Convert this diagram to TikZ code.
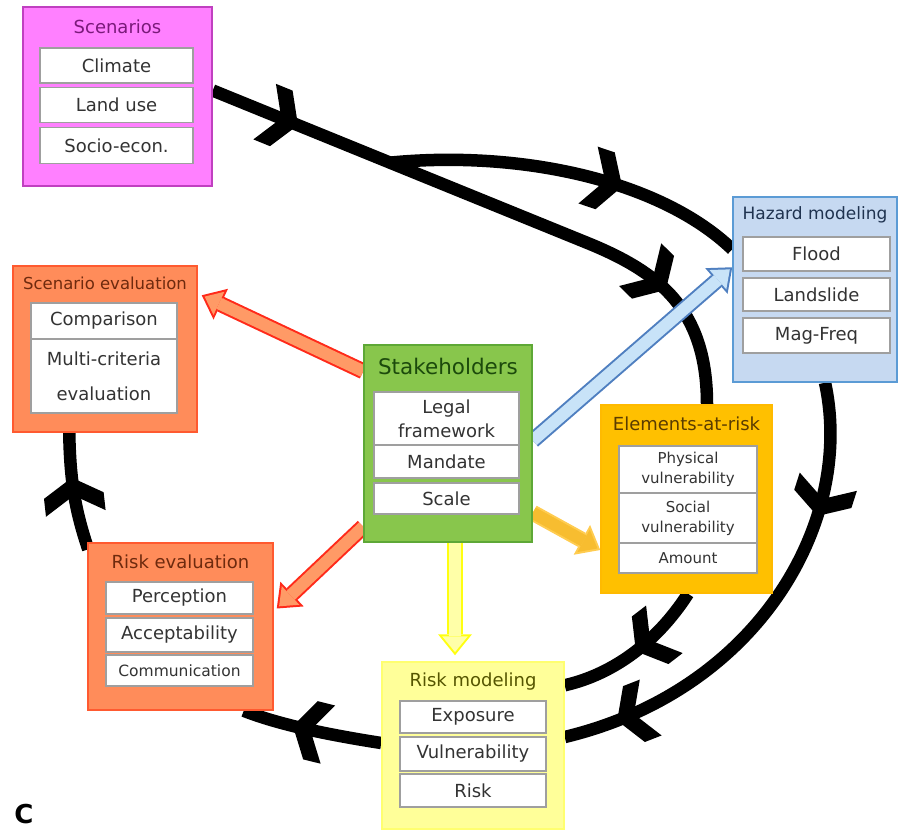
\documentclass[tikz,border=0pt]{standalone}
\usepackage{fontspec}
\setmainfont{DejaVu Sans}
\usepackage{xcolor}
\usepackage{tikz}
\usetikzlibrary{arrows.meta,calc,backgrounds,decorations.markings}

\definecolor{scenfill}{HTML}{FF80FF}
\definecolor{scenline}{HTML}{C040C0}
\definecolor{scentext}{HTML}{7A1A7A}
\definecolor{hazfill}{HTML}{C6D9F1}
\definecolor{hazline}{HTML}{5B9BD5}
\definecolor{haztext}{HTML}{1F3350}
\definecolor{evalfill}{HTML}{FF8C5A}
\definecolor{evalline}{HTML}{FF5A30}
\definecolor{evaltext}{HTML}{6E2A0E}
\definecolor{stakefill}{HTML}{88C64C}
\definecolor{stakeline}{HTML}{5EA836}
\definecolor{staketext}{HTML}{1C4A0C}
\definecolor{earfill}{HTML}{FFC000}
\definecolor{earline}{HTML}{FFBA00}
\definecolor{eartext}{HTML}{5A3C00}
\definecolor{rmfill}{HTML}{FFFF99}
\definecolor{rmline}{HTML}{FFFF70}
\definecolor{rmtext}{HTML}{555500}
\definecolor{celltext}{HTML}{333333}
\definecolor{redline}{HTML}{FF2A1A}
\definecolor{redfill}{HTML}{FF9A66}
\definecolor{yelline}{HTML}{FFFF10}
\definecolor{yelfill}{HTML}{FFFFA8}
\definecolor{goldline}{HTML}{FFCC50}
\definecolor{goldfill}{HTML}{F7BD30}
\definecolor{blueline}{HTML}{4F7FC0}
\definecolor{bluefill}{HTML}{C8E3F8}

\begin{document}
\begin{tikzpicture}[x=1pt, y=-1pt,
  panel/.style={draw=#1, line width=1.5pt, inner sep=0pt},
  head/.style={text=#1, inner sep=0pt, font=\fontsize{18pt}{21pt}\selectfont},
  cell/.style={draw=gray!75, line width=1.2pt, fill=white, inner sep=0pt, minimum width=#1, text=celltext, align=center, font=\fontsize{18pt}{22pt}\selectfont},
  loopline/.style={draw=black, line width=12.5pt},
  chevron/.style={postaction={decorate, decoration={markings, mark=at position #1 with {\fill[black] (0pt,0pt) -- (-18pt,30pt) -- (-36pt,30pt) -- (-18pt,0pt) -- (-36pt,-30pt) -- (-18pt,-30pt) -- cycle;}}}},
  fatarrow/.style 2 args={draw=#2, line width=12pt, -{Triangle[length=15.8pt,width=25.6pt,line width=0pt]}, shorten >=3.2pt,
    preaction={draw=#1, line width=16pt, -{Triangle[length=21pt,width=34pt,line width=0pt]}, shorten >=0pt}}]

\useasboundingbox (0,0) rectangle (899,830);

\node[panel=scenline, fill=scenfill, minimum width=189pt, minimum height=179pt] (scen) at (117.5,96.5) {};
\node[head=scentext] (scenhead) at (117.5,27) {Scenarios};
\node[cell=153pt, minimum height=35pt] (climate) at (116.5,65.5) {Climate};
\node[cell=153pt, minimum height=35pt] (landuse) at (116.5,105) {Land use};
\node[cell=153pt, minimum height=36pt] (socio) at (116.5,145.5) {Socio-econ.};

\node[panel=hazline, fill=hazfill, minimum width=164pt, minimum height=185pt] (haz) at (815,289.5) {};
\node[head=haztext, font=\fontsize{17pt}{20pt}\selectfont] (hazhead) at (815,215) {Hazard modeling};
\node[cell=147pt, minimum height=34pt] (flood) at (816.5,254) {Flood};
\node[cell=147pt, minimum height=33pt] (landslide) at (816.5,294.5) {Landslide};
\node[cell=147pt, minimum height=35pt] (magfreq) at (816.5,335.5) {Mag-Freq};

\node[panel=evalline, fill=evalfill, minimum width=184pt, minimum height=166pt] (seval) at (105,349) {};
\node[head=evaltext, font=\fontsize{16.5pt}{20pt}\selectfont] (sevalhead) at (105,283) {Scenario evaluation};
\node[cell=146pt, minimum height=36pt] (comparison) at (104,321) {Comparison};
\node[cell=146pt, minimum height=74pt, font=\fontsize{18pt}{35pt}\selectfont] (multicrit) at (104,376) {Multi-criteria\\evaluation};

\node[panel=stakeline, fill=stakefill, minimum width=168pt, minimum height=197pt] (stake) at (448,443.5) {};
\node[head=staketext, font=\fontsize{21.5pt}{25pt}\selectfont] (stakehead) at (448,366) {Stakeholders};
\node[cell=145pt, minimum height=53pt, font=\fontsize{18pt}{24pt}\selectfont] (legal) at (446.5,418.5) {Legal\\framework};
\node[cell=145pt, minimum height=33pt] (mandate) at (446.5,461.5) {Mandate};
\node[cell=145pt, minimum height=31pt] (scale) at (446.5,498.5) {Scale};

\node[panel=earline, fill=earfill, minimum width=171pt, minimum height=188pt] (ear) at (686.5,499) {};
\node[head=eartext] (earhead) at (686.5,424) {Elements-at-risk};
\node[cell=138pt, minimum height=47pt, font=\fontsize{15pt}{20pt}\selectfont] (physical) at (688,469.5) {Physical\\vulnerability};
\node[cell=138pt, minimum height=50pt, font=\fontsize{15pt}{20pt}\selectfont] (social) at (688,518) {Social\\vulnerability};
\node[cell=138pt, minimum height=30pt, font=\fontsize{15pt}{20pt}\selectfont] (amount) at (688,558) {Amount};

\node[panel=evalline, fill=evalfill, minimum width=185pt, minimum height=167pt] (reval) at (180.5,626.5) {};
\node[head=evaltext] (revalhead) at (180.5,562) {Risk evaluation};
\node[cell=147pt, minimum height=32pt] (perception) at (179.5,598) {Perception};
\node[cell=147pt, minimum height=34pt] (accept) at (179.5,635) {Acceptability};
\node[cell=147pt, minimum height=31pt, font=\fontsize{15.5pt}{20pt}\selectfont] (communic) at (179.5,670.5) {Communication};

\node[panel=rmline, fill=rmfill, minimum width=182pt, minimum height=167pt] (rm) at (473,745.5) {};
\node[head=rmtext] (rmhead) at (473,682) {Risk modeling};
\node[cell=146pt, minimum height=32pt] (exposure) at (473,717) {Exposure};
\node[cell=146pt, minimum height=34pt] (vulner) at (473,754) {Vulnerability};
\node[cell=146pt, minimum height=33pt] (risk) at (473,790.5) {Risk};

\node[font=\bfseries\fontsize{26pt}{30pt}\selectfont, inner sep=0pt] (tag) at (24,814) {C};

\begin{scope}[on background layer]
\draw[loopline, chevron=92pt, chevron=-125pt] ($(scen.east)+(0,-6)$) -- coordinate[pos=0.47] (split) (590,244) .. controls (660,273) and (707,310) .. ($(ear.north)+(20.5,0)$);
\draw[loopline, chevron=235pt] (split) .. controls (520,150) and (660,180) .. ($(haz.north west)+(0,53)$);
\draw[loopline, chevron=135pt, chevron=-55pt] ($(haz.south)+(10,0)$) .. controls (855,520) and (760,690) .. ($(rm.east)+(0,-8.5)$);
\draw[loopline, chevron=78pt] ($(ear.south)+(1.5,0)$) .. controls (655,645) and (610,675) .. ($(rm.north east)+(0,24)$);
\draw[loopline, chevron=90pt] ($(rm.west)+(0,-2.5)$) .. controls (330,735) and (280,725) .. ($(reval.south east)+(-30,0)$);
\draw[loopline, chevron=-45pt] ($(reval.north west)+(1,7)$) .. controls (75,510) and (70,480) .. ($(seval.south west)+(57,0)$);

\draw[fatarrow={redline}{redfill}] ($(stake.north west)+(0,27)$) -- ($(seval.north east)+(4,30)$);
\draw[fatarrow={redline}{redfill}] ($(stake.south west)+(0,-16)$) -- ($(reval.east)+(3,-18)$);
\draw[fatarrow={yelline}{yelfill}] ($(stake.south)+(7,0)$) -- ($(rm.north)+(-18,-6)$);
\draw[fatarrow={goldline}{goldfill}] ($(stake.south east)+(0,-30)$) -- ($(ear.west)+(0,51)$);
\draw[fatarrow={blueline}{bluefill}] ($(stake.east)+(0,-3)$) -- ($(haz.north west)+(0,71)$);
\end{scope}

\end{tikzpicture}
\end{document}
